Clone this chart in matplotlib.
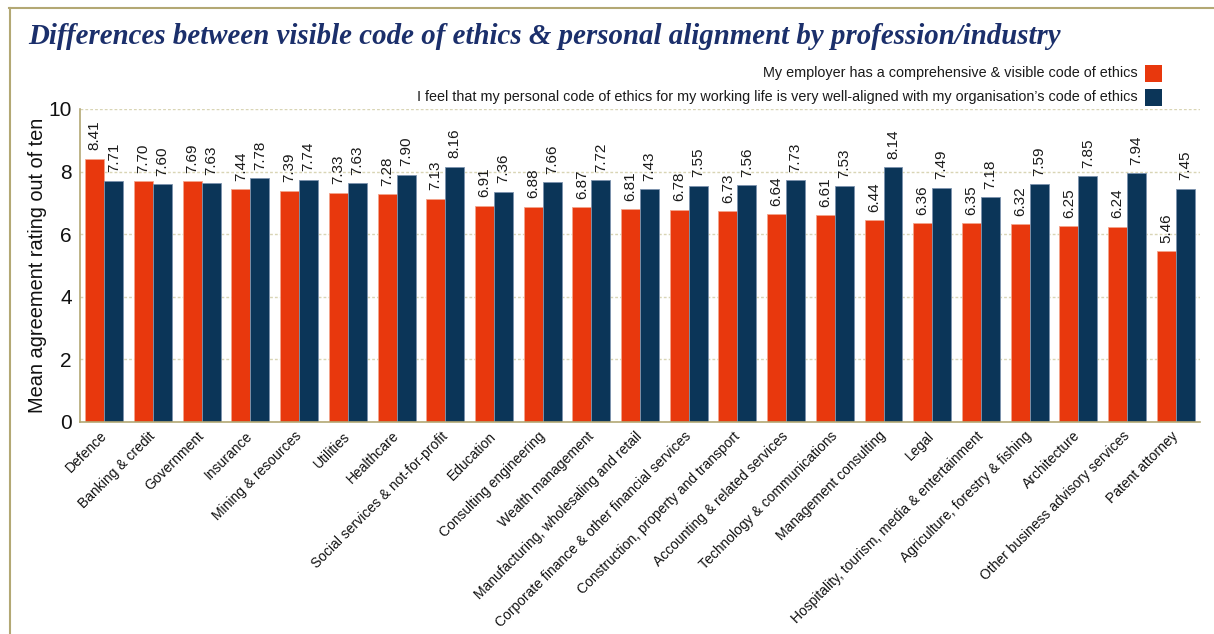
import matplotlib
matplotlib.use('Agg')
import matplotlib.pyplot as plt
from matplotlib.lines import Line2D
from matplotlib.patches import Rectangle
import numpy as np

categories = ['Defence', 'Banking & credit', 'Government', 'Insurance', 'Mining & resources',
              'Utilities', 'Healthcare', 'Social services & not-for-profit', 'Education',
              'Consulting engineering', 'Wealth management',
              'Manufacturing, wholesaling and retail', 'Corporate finance & other financial services',
              'Construction, property and transport', 'Accounting & related services',
              'Technology & communications', 'Management consulting', 'Legal',
              'Hospitality, tourism, media & entertainment', 'Agriculture, forestry & fishing',
              'Architecture', 'Other business advisory services', 'Patent attorney']
visible_code = [8.41, 7.70, 7.69, 7.44, 7.39, 7.33, 7.28, 7.13, 6.91, 6.88, 6.87, 6.81,
                6.78, 6.73, 6.64, 6.61, 6.44, 6.36, 6.35, 6.32, 6.25, 6.24, 5.46]
personal_align = [7.71, 7.60, 7.63, 7.78, 7.74, 7.63, 7.90, 8.16, 7.36, 7.66, 7.72, 7.43,
                  7.55, 7.56, 7.73, 7.53, 8.14, 7.49, 7.18, 7.59, 7.85, 7.94, 7.45]
series_names = ['My employer has a comprehensive & visible code of ethics',
                'I feel that my personal code of ethics for my working life is very well-aligned with my organisation\u2019s code of ethics']

RED = '#E8380D'
NAVY = '#0B3558'
OLIVE = '#B3A874'
GRID = '#D9D5B5'

plt.rcParams['font.family'] = ['Liberation Sans', 'DejaVu Sans']

fig = plt.figure(figsize=(12.14, 6.34), dpi=100)
ax = fig.add_axes([0.0659, 0.3344, 0.9226, 0.4937])

x = np.arange(len(categories))
w = 0.39
b1 = ax.bar(x - w/2, visible_code, w, color=RED, edgecolor='#F4A48C', linewidth=0.6, zorder=3)
b2 = ax.bar(x + w/2, personal_align, w, color=NAVY, edgecolor='#7C93AE', linewidth=0.6, zorder=3)

for bars in (b1, b2):
    for bar in bars:
        h = bar.get_height()
        ax.annotate(f'{h:.2f}', xy=(bar.get_x() + bar.get_width()/2, h),
                    xytext=(0, 6), textcoords='offset points', rotation=90,
                    ha='center', va='bottom', fontsize=11, color='#1a1a1a')

ax.set_xlim(-0.5, len(categories) - 0.5)
ax.set_ylim(0, 10)
ax.set_yticks([0, 2, 4, 6, 8, 10])
ax.tick_params(axis='y', labelsize=15, length=0, pad=6, colors='#111111')
ax.set_xticks(x - 0.1)
ax.set_xticklabels(categories, rotation=45, ha='right', rotation_mode='anchor',
                   fontsize=10)
ax.tick_params(axis='x', length=0, pad=5, colors='#111111')
ax.set_ylabel('Mean agreement rating out of ten', fontsize=14.4, color='#111111', labelpad=1)

ax.grid(axis='y', color=GRID, linestyle=(0, (2, 1.5)), linewidth=1, zorder=0)
for s in ('top', 'right'):
    ax.spines[s].set_visible(False)
for s in ('left', 'bottom'):
    ax.spines[s].set_color(OLIVE)
    ax.spines[s].set_linewidth(1.2)
    ax.spines[s].set_zorder(4)

# title
fig.text(0.023, 1 - 36/634, 'Differences between visible code of ethics & personal alignment by profession/industry',
         family=['Liberation Serif'], style='italic', weight='bold', fontsize=20.8, color='#1B2F6B',
         ha='left', va='center')

# legend
for i, (name, col) in enumerate(zip(series_names, [RED, NAVY])):
    yc = 1 - (73 + 24*i) / 634
    fig.text(1138/1214, yc, name, ha='right', va='center', fontsize=10.4, color='#1a1a1a')
    fig.add_artist(Rectangle((1145/1214, yc - 8.5/634), 17/1214, 17/634,
                             transform=fig.transFigure, facecolor=col, edgecolor='none'))

# frame lines
fig.add_artist(Line2D([9/1214, 1], [1 - 8/634, 1 - 8/634], transform=fig.transFigure,
                      color=OLIVE, linewidth=1.5))
fig.add_artist(Line2D([10/1214, 10/1214], [0, 1 - 8/634], transform=fig.transFigure,
                      color=OLIVE, linewidth=1.5))

fig.savefig('out.png', dpi=100)
